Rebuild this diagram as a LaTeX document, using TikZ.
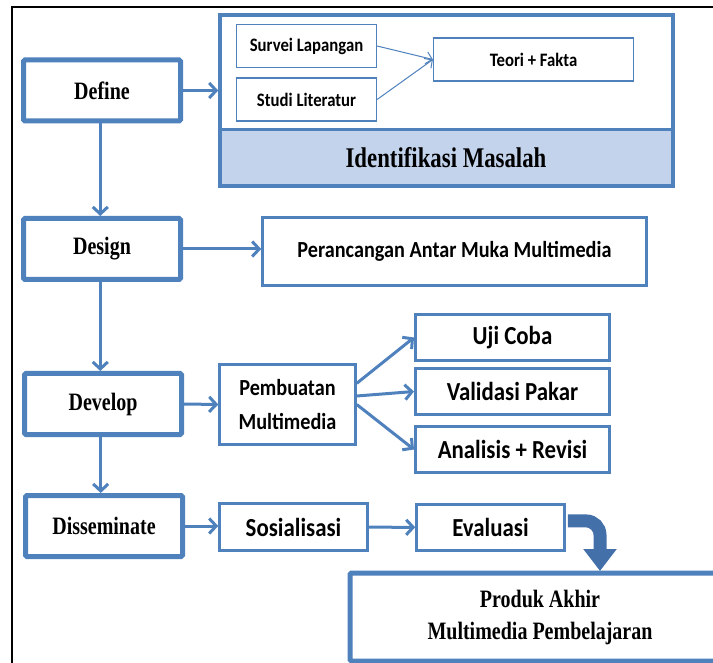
\documentclass[tikz,border=0pt]{standalone}
\usepackage{fontspec}
\setmainfont{Liberation Serif}
\newfontfamily\calfont[FakeStretch=0.88]{Carlito}
\newfontfamily\tnrfont[FakeStretch=0.8]{Liberation Serif}
\usetikzlibrary{arrows.meta}

\definecolor{boxblue}{RGB}{79,129,189}
\definecolor{bendblue}{RGB}{68,112,170}
\definecolor{paleblue}{RGB}{194,211,235}

\tikzset{
  stage/.style={draw=boxblue, line width=5pt, rounded corners=1.5pt, fill=white,
    minimum width=157pt, minimum height=61pt, inner sep=0pt,
    font=\tnrfont\bfseries\fontsize{25}{28}\selectfont},
  innerbox/.style={draw=boxblue, line width=1.2pt, fill=white, minimum height=43pt,
    inner sep=0pt, font=\calfont\bfseries\fontsize{19}{22}\selectfont},
  taskbox/.style={draw=boxblue, line width=2.5pt, fill=white, inner sep=0pt,
    font=\calfont\bfseries\fontsize{26}{30}\selectfont},
  flow/.style={draw=boxblue, line width=3pt, -{Straight Barb[length=7pt,width=15pt]}},
  thinflow/.style={draw=boxblue, line width=1pt, -{Straight Barb[length=6pt,width=12pt]}},
}

\begin{document}
\begin{tikzpicture}[x=1pt,y=-1pt]
    \useasboundingbox (0,0) rectangle (713,663);
    \draw[line width=1.5pt] (12,663) |- (713,7);

    % tahap utama
    \node[stage] (define) at (102,90.5) {Define};
    \node[stage] (design) at (102,249) {Design};
    \node[stage] (develop) at (103,404) {Develop};
    \node[stage] (dissem) at (104,526) {Disseminate};

    \draw[flow] (define.-93) -- (define.-93 |- design.north);
    \draw[flow] (design.-93) -- (design.-93 |- develop.north);
    \draw[flow] (develop.-94) -- (develop.-94 |- dissem.north);

    % identifikasi masalah
    \node[draw=boxblue, line width=3.5pt, fill=white, minimum width=453pt, minimum height=171pt,
      path picture={\fill[paleblue] (path picture bounding box.south west)
        rectangle ([yshift=58pt]path picture bounding box.south east);}] (bigbox) at (446.5,100.5) {};
    \draw[boxblue, line width=3pt] ([yshift=58pt]bigbox.south west) -- ([yshift=58pt]bigbox.south east);
    \node[font=\tnrfont\bfseries\fontsize{28.5}{30}\selectfont] (ident) at (446,158) {Identifikasi Masalah};

    \node[innerbox, minimum width=140pt] (survei) at (306.5,46) {Survei Lapangan};
    \node[innerbox, minimum width=140pt] (studi) at (306.5,99.5) {Studi Literatur};
    \node[innerbox, minimum width=200pt] (teori) at (533.5,59.5) {Teori + Fakta};
    \draw[thinflow] (survei.east) -- (teori.west);
    \draw[thinflow] (studi.east) -- (teori.west);
    \draw[flow] (define.east) -- (define.east -| bigbox.west);

    % design
    \node[taskbox, minimum width=384pt, minimum height=68pt, font=\calfont\bfseries\fontsize{23}{26}\selectfont]
      (rancang) at (454.5,251.5) {Perancangan Antar Muka Multimedia};
    \draw[flow] (design.east) -- (design.east -| rancang.west);

    % develop
    \node[taskbox, minimum width=136pt, minimum height=80pt, align=center,
      font=\calfont\bfseries\fontsize{23}{34}\selectfont] (buat) at (287.5,404.5) {Pembuatan\\Multimedia};
    \node[taskbox, line width=3pt, minimum width=194pt, minimum height=46pt] (uji) at (512.5,337.5) {Uji Coba};
    \node[taskbox, line width=3pt, minimum width=194pt, minimum height=46pt] (validasi) at (512.5,391.5) {Validasi Pakar};
    \node[taskbox, line width=3pt, minimum width=194pt, minimum height=46pt] (analisis) at (512.5,449.5) {Analisis + Revisi};
    \draw[flow] (develop.east) -- (buat.west);
    \draw[flow] (buat.17) -- (uji.west);
    \draw[flow] (buat.7) -- (validasi.west);
    \draw[flow] (buat.east) -- (analisis.west);

    % disseminate
    \node[taskbox, minimum width=148pt, minimum height=47pt] (sosial) at (293.5,527) {Sosialisasi};
    \node[taskbox, minimum width=148pt, minimum height=46pt] (evaluasi) at (490.5,527.5) {Evaluasi};
    \draw[flow] (dissem.east) -- (dissem.east -| sosial.west);
    \draw[flow] (sosial) -- (evaluasi);

    \node[stage, minimum width=380pt, minimum height=88pt, align=center,
      font=\tnrfont\bfseries\fontsize{25}{32}\selectfont] (produk) at (540,617) {Produk Akhir\\Multimedia Pembelajaran};
    \coordinate (tip) at (600,571);
    \draw[bendblue, line width=13pt, rounded corners=14pt, shorten <=2pt,
      -{Triangle[length=22pt,width=32pt]}] (evaluasi.5) -| (tip);
\end{tikzpicture}
\end{document}
